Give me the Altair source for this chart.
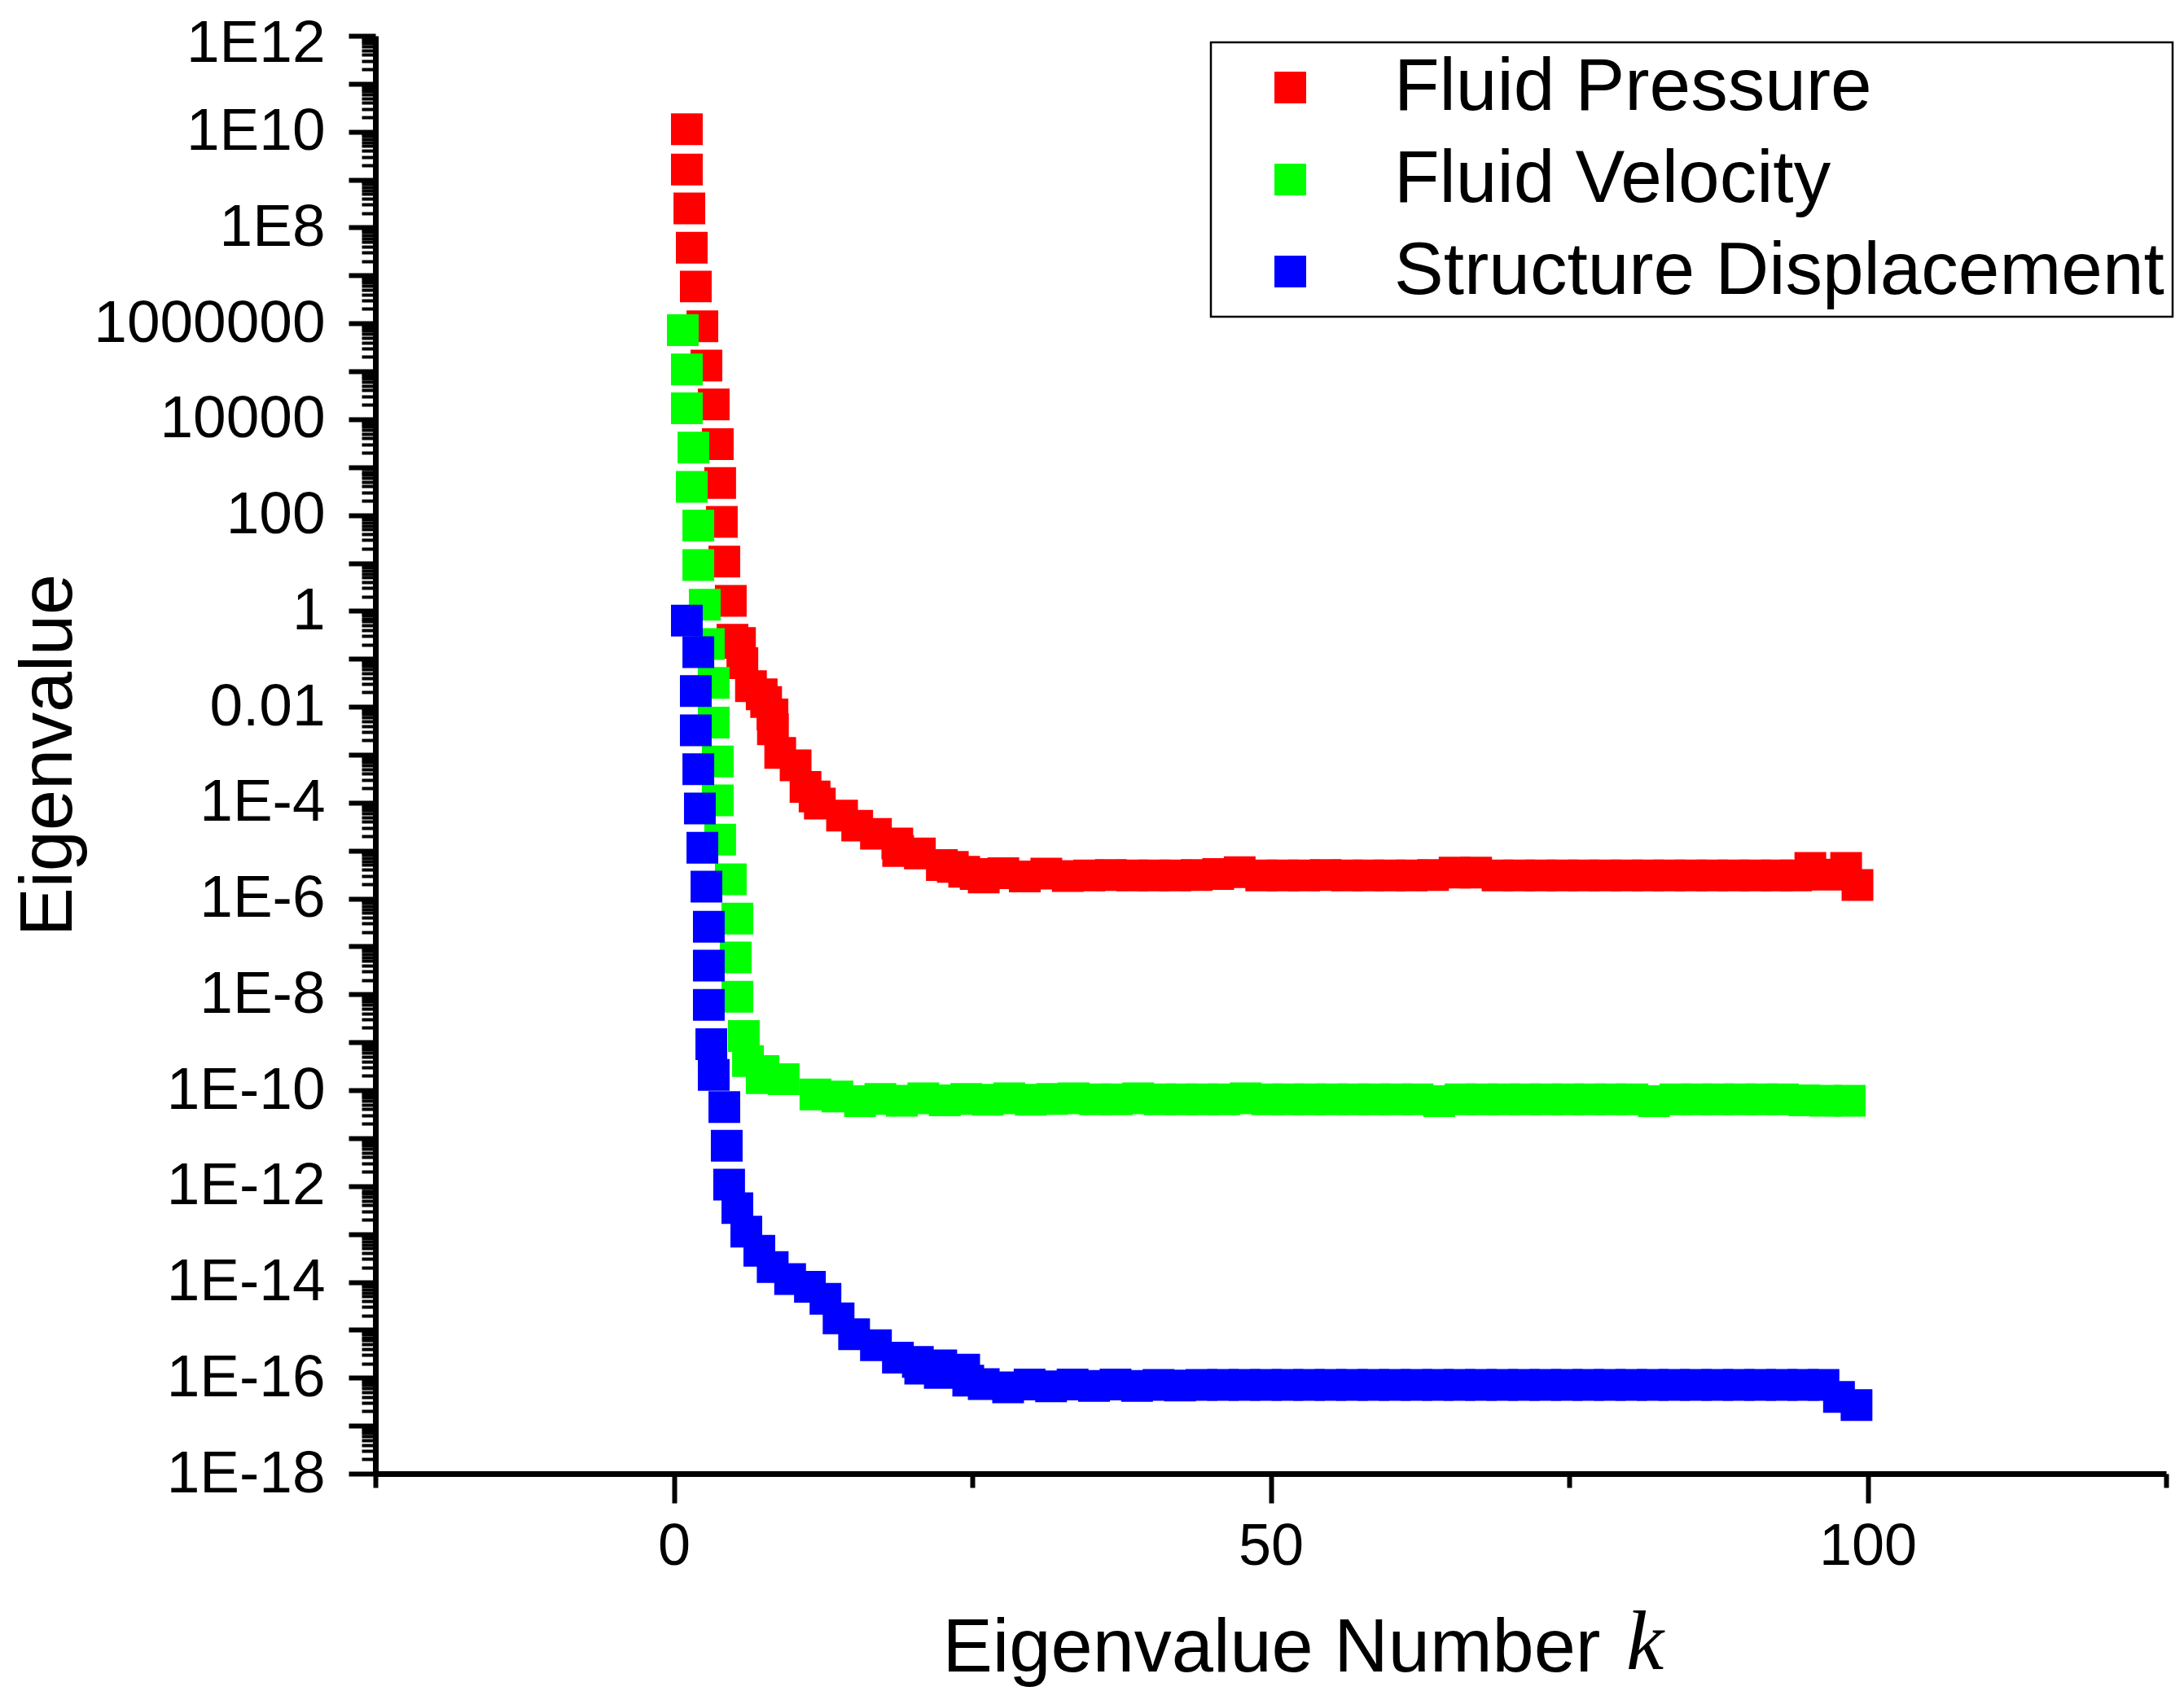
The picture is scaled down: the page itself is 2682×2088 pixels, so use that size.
import altair as alt
import pandas as pd

SERIES = ["Fluid Pressure", "Fluid Velocity", "Structure Displacement"]
COLORS = ["#ff0000", "#00ff00", "#0000ff"]

# ---- Fluid Pressure (red): eigenvalue number k and log10(eigenvalue)
PRESSURE_K = [1.09, 1.09, 1.30, 1.50, 1.84, 2.39, 2.73, 3.34, 3.68, 3.88, 4.02, 4.23, 4.77,
              4.91, 5.54, 5.74, 6.46, 7.36, 7.73, 8.26, 8.30, 8.91, 10.2, 11.03, 11.79, 12.23,
              14.09, 15.36, 16.93, 18.72, 18.79, 20.61, 22.45, 23.37, 24.32, 25.28, 25.96,
              27.6, 29.4, 31.2, 33.0, 34.8, 36.6, 38.4, 40.2, 42.0, 43.8, 45.6, 47.4, 49.2,
              51.0, 52.8, 54.6, 56.4, 58.2, 60.0, 61.8, 63.6, 65.4, 67.2, 69.0, 70.8, 72.6,
              74.4, 76.2, 78.0, 79.8, 81.6, 83.4, 85.2, 87.0, 88.8, 90.6, 92.4, 94.0, 95.2,
              96.6, 98.2, 99.15]
PRESSURE_LOG10 = [10.05, 9.21, 8.40, 7.58, 6.77, 5.94, 5.12, 4.31, 3.48, 2.67, 1.86, 1.03, 0.21,
                  -0.60, -0.67, -1.09, -1.57, -1.74, -1.90, -2.16, -2.47, -2.96, -3.22, -3.67,
                  -3.87, -4.02, -4.27, -4.48, -4.65, -4.85, -5.01, -5.06, -5.30, -5.34, -5.44,
                  -5.49, -5.56,
                  -5.47, -5.54, -5.48, -5.53, -5.52, -5.51, -5.52, -5.52, -5.52, -5.51, -5.49,
                  -5.45, -5.52, -5.52, -5.52, -5.51, -5.52, -5.52, -5.52, -5.52, -5.51, -5.46,
                  -5.46, -5.52, -5.52, -5.52, -5.52, -5.52, -5.52, -5.52, -5.52, -5.52, -5.52,
                  -5.52, -5.52, -5.52, -5.52, -5.52, -5.36, -5.50, -5.36, -5.72]

# ---- Fluid Velocity (green)
VELOCITY_K = [0.75, 1.09, 1.09, 1.64, 1.50, 2.05, 2.05, 2.59, 2.93, 3.34, 3.34, 3.68, 3.68,
              3.88, 4.77, 5.32, 5.18, 5.32, 5.86, 6.21, 7.50, 7.36, 9.2, 11.86, 13.7, 15.6,
              17.3, 19.1, 20.9, 22.7, 24.5, 26.3, 28.1, 29.9, 31.7, 33.5, 35.3, 37.1, 38.9,
              40.7, 42.5, 44.3, 46.1, 47.9, 49.7, 51.5, 53.3, 55.1, 56.9, 58.7, 60.5, 62.3,
              64.1, 65.9, 67.7, 69.5, 71.3, 73.1, 74.9, 76.7, 78.5, 80.3, 82.1, 83.9, 85.7,
              87.5, 89.3, 91.1, 92.9, 94.7, 96.5, 98.5]
VELOCITY_LOG10 = [5.86, 5.04, 4.23, 3.41, 2.59, 1.78, 0.96, 0.13, -0.69, -1.50, -2.33, -3.14,
                  -3.95, -4.77, -5.60, -6.42, -7.23, -8.05, -8.87, -9.39, -9.60, -9.75, -9.77,
                  -10.09, -10.13, -10.23,
                  -10.18, -10.22, -10.17, -10.21, -10.18, -10.20, -10.17, -10.20, -10.18,
                  -10.17, -10.19, -10.19, -10.17, -10.19, -10.19, -10.19, -10.19, -10.17,
                  -10.19, -10.19, -10.19, -10.19, -10.19, -10.19, -10.19, -10.19, -10.23,
                  -10.19, -10.19, -10.19, -10.19, -10.19, -10.19, -10.19, -10.19, -10.19,
                  -10.23, -10.19, -10.19, -10.19, -10.19, -10.19, -10.19, -10.21, -10.22,
                  -10.22]

# ---- Structure Displacement (blue)
DISPLACEMENT_K = [1.09, 2.05, 1.84, 1.84, 2.05, 2.18, 2.39, 2.73, 2.93, 2.93, 2.93, 3.14, 3.34,
                  4.23, 4.43, 4.63, 5.32, 6.07, 7.16, 8.28, 9.74, 11.4, 12.7, 13.8, 15.1,
                  16.93, 18.77, 20.44, 20.64, 22.4, 22.28, 24.32, 24.66, 25.96, 28.0,
                  29.8, 31.6, 33.4, 35.2, 37.0, 38.8, 40.6, 42.4, 44.2, 46.0, 47.8, 49.6, 51.4,
                  53.2, 55.0, 56.8, 58.6, 60.4, 62.2, 64.0, 65.8, 67.6, 69.4, 71.2, 73.0, 74.8,
                  76.6, 78.4, 80.2, 82.0, 83.8, 85.6, 87.4, 89.2, 91.0, 92.8, 94.6, 96.3, 97.6,
                  99.07]
DISPLACEMENT_LOG10 = [-0.20, -0.86, -1.67, -2.49, -3.30, -4.12, -4.94, -5.75, -6.59, -7.40,
                      -8.22, -9.04, -9.68, -10.35, -11.16, -11.97, -12.46, -12.95, -13.35,
                      -13.69, -13.94, -14.10, -14.35, -14.76, -15.09, -15.32, -15.58, -15.67,
                      -15.81, -15.74, -15.90, -15.83, -16.06, -16.13, -16.20,
                      -16.14, -16.18, -16.14, -16.17, -16.14, -16.17, -16.15, -16.16, -16.15,
                      -16.15, -16.15, -16.15, -16.15, -16.15, -16.15, -16.15, -16.15, -16.15,
                      -16.15, -16.15, -16.15, -16.15, -16.15, -16.15, -16.15, -16.15, -16.15,
                      -16.15, -16.15, -16.15, -16.15, -16.15, -16.15, -16.15, -16.15, -16.15,
                      -16.15, -16.15, -16.40, -16.57]

# ---- axis ticks / labels
X_MAJOR = [0, 50, 100]
X_MINOR = [-25, 25, 75, 125]
X_LABELS = ["0", "50", "100"]
Y_LABEL_EXP = [12, 10, 8, 6, 4, 2, 0, -2, -4, -6, -8, -10, -12, -14, -16, -18]
Y_LABEL_TEXT = ["1E12", "1E10", "1E8", "1000000", "10000", "100", "1", "0.01", "1E-4",
                "1E-6", "1E-8", "1E-10", "1E-12", "1E-14", "1E-16", "1E-18"]

rows = []
for name, ks, ls in [(SERIES[0], PRESSURE_K, PRESSURE_LOG10),
                     (SERIES[1], VELOCITY_K, VELOCITY_LOG10),
                     (SERIES[2], DISPLACEMENT_K, DISPLACEMENT_LOG10)]:
    for k, l in zip(ks, ls):
        rows.append({"series": name, "k": k, "value": 10.0 ** l})
df = pd.DataFrame(rows)

# y ticks: every decade (major) + 2..9 minor ticks
y_ticks = [10.0 ** e for e in range(-18, 13)] + [m * 10.0 ** e for e in range(-18, 12) for m in range(2, 10)]
e_expr = "round(log(datum.value)/LN10)"
is_major_y = f"abs(log(datum.value)/LN10 - {e_expr}) < 0.000001"
chain = "''"
for e, t in reversed(list(zip(Y_LABEL_EXP, Y_LABEL_TEXT))):
    chain = f"({e_expr} == {e} ? '{t}' : {chain})"
y_label_expr = f"{is_major_y} ? {chain} : ''"

x_ticks = sorted(X_MAJOR + X_MINOR)
is_major_x = "indexof(" + str(X_MAJOR) + ", datum.value) >= 0"
x_chain = "''"
for v, t in reversed(list(zip(X_MAJOR, X_LABELS))):
    x_chain = f"(datum.value == {v} ? '{t}' : {x_chain})"

FONT = "Liberation Sans"

x_axis = alt.Axis(
    values=x_ticks, labelExpr=x_chain, labelFont=FONT, labelFontSize=72, labelColor="black",
    labelPadding=18, labelFlush=False, labelOverlap=False, labelLimit=1000,
    tickSize={"condition": {"test": is_major_x, "value": 36}, "value": 17},
    tickWidth=6, tickColor="black", domainColor="black", domainWidth=7, grid=False,
    title="Eigenvalue Number", titleFont=FONT, titleFontSize=92, titleFontWeight="normal",
    titleColor="black", titleX=696, titleY=242, titleAlign="left", titleBaseline="alphabetic",
)
y_axis = alt.Axis(
    values=y_ticks, labelExpr=y_label_expr, labelFont=FONT, labelFontSize=73, labelColor="black",
    labelPadding=29, labelFlush=False, labelOverlap=False, labelLimit=1000,
    labelOffset={"condition": {"test": "datum.value > 1e11", "value": 9}, "value": 0},
    tickSize={"condition": {"test": is_major_y, "value": 33}, "value": 17},
    tickWidth={"condition": {"test": is_major_y, "value": 6}, "value": 4},
    tickColor="black", domainColor="black", domainWidth=7, grid=False,
    title="Eigenvalue", titleFont=FONT, titleFontSize=90, titleFontWeight="normal",
    titleColor="black", titleX=-374, titleBaseline="alphabetic",
)

legend = alt.Legend(
    orient="none", legendX=1026, legendY=8, title=None,
    labelFont=FONT, labelFontSize=91, labelColor="black", labelLimit=3000,
    symbolType="square", symbolSize=1520, symbolStrokeWidth=0, symbolOpacity=1,
    symbolOffset=42, labelOffset=82, padding=10,
    strokeColor="black", fillColor="white",
)

points = alt.Chart(df).mark_square(size=1520, opacity=1, filled=True, strokeWidth=0).encode(
    x=alt.X("k:Q", scale=alt.Scale(domain=[-25, 125], nice=False, zero=False), axis=x_axis),
    y=alt.Y("value:Q", scale=alt.Scale(type="log", domain=[1e-18, 1e12], nice=False), axis=y_axis),
    color=alt.Color("series:N", scale=alt.Scale(domain=SERIES, range=COLORS), legend=legend),
)

k_label = alt.Chart(pd.DataFrame({"t": ["k"]})).mark_text(
    font="Liberation Serif", fontStyle="italic", fontSize=104, align="left",
    baseline="alphabetic", color="black",
).encode(x=alt.value(1536), y=alt.value(2006), text="t:N")

chart = alt.layer(points, k_label).properties(
    width=2199, height=1766,
    autosize=alt.AutoSizeParams(type="none"),
    padding={"left": 453, "top": 36, "right": 14, "bottom": 262},
    background="white",
).configure_view(stroke=None).configure_legend(strokeWidth=2.5, rowPadding=21)

chart.save("out.html", embed_options={"renderer": "svg", "actions": False})
